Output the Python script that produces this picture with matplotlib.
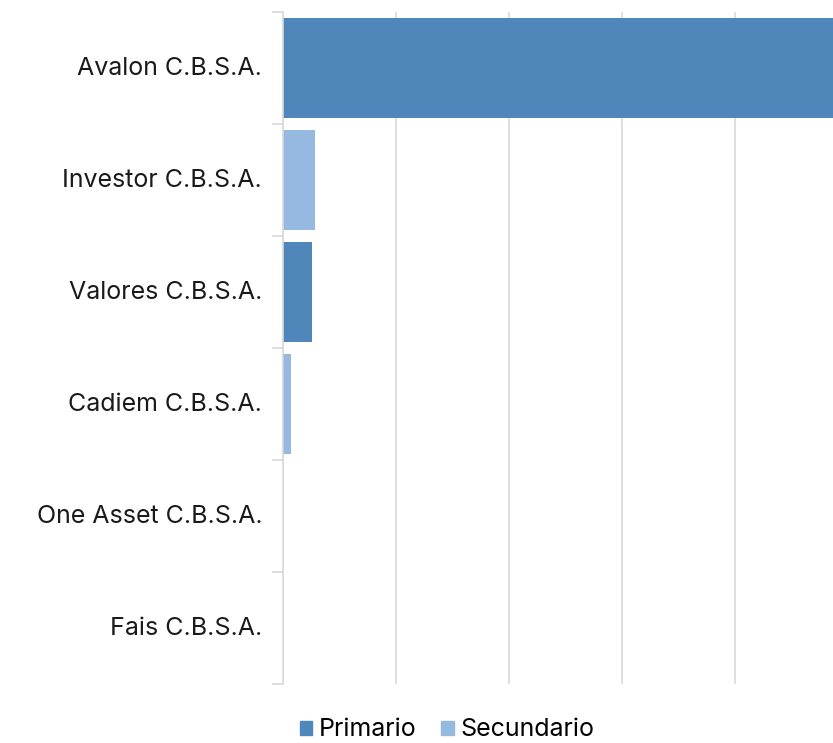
import numpy as np
import matplotlib.pyplot as plt
from matplotlib.patches import Patch

# Data (one grid step = 100)
categories = ['Avalon C.B.S.A.', 'Investor C.B.S.A.', 'Valores C.B.S.A.',
              'Cadiem C.B.S.A.', 'One Asset C.B.S.A.', 'Fais C.B.S.A.']
primario = [520, 0, 26, 1, 0, 0]
secundario = [0, 28, 0, 6, 0, 0]

c_prim = '#4F87BB'
c_sec = '#95B9E0'
grid_c = '#D9D9D9'

plt.rcParams['font.family'] = ['Inter', 'DejaVu Sans']

fig = plt.figure(figsize=(8.33, 7.43), dpi=100)
ax = fig.add_axes([283 / 833, 59 / 743, 550 / 833, 672 / 743])

y = np.arange(len(categories))
ax.barh(y, primario, height=0.9, color=c_prim)
ax.barh(y, secundario, left=primario, height=0.9, color=c_sec)

ax.set_xlim(0, 550 / 113 * 100)
ax.set_ylim(len(categories) - 0.5, -0.5)

# gridlines
ax.set_xticks(np.arange(0, 500, 100))
ax.xaxis.grid(True, color=grid_c, linewidth=1.2)
ax.set_axisbelow(True)
ax.tick_params(axis='x', length=0, labelbottom=False)

# category labels in the middle, tick marks on the boundaries
ax.set_yticks(y - 0.015)
ax.set_yticklabels(categories, fontsize=18, color='#1a1a1a')
ax.tick_params(axis='y', which='major', length=0, pad=15)
ax.set_yticks(np.arange(-0.5, len(categories) + 0.5, 1), minor=True)
ax.tick_params(axis='y', which='minor', length=8, color=grid_c, width=1.2)

for s in ['top', 'right', 'bottom']:
    ax.spines[s].set_visible(False)
ax.spines['left'].set_color(grid_c)
ax.spines['left'].set_linewidth(1.2)

handles = [Patch(color=c_prim, label='Primario'),
           Patch(color=c_sec, label='Secundario')]
fig.legend(handles=handles, loc='center', bbox_to_anchor=(447 / 833, 13 / 743),
           ncol=2, frameon=False, fontsize=18, handlelength=0.5, handleheight=0.5,
           handletextpad=0.25, columnspacing=1.0, borderpad=0)

fig.savefig('out.png', dpi=100)
